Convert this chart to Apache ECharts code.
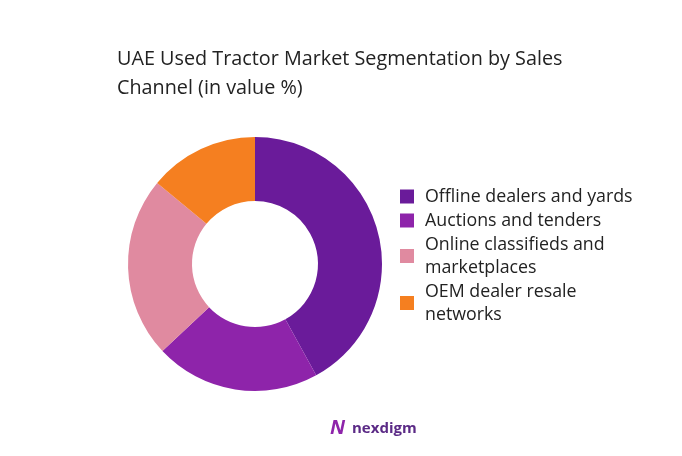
<!DOCTYPE html>
<html><head><meta charset="utf-8">
<script src="https://cdn.jsdelivr.net/npm/echarts@6/dist/echarts.min.js"></script>
<style>html,body{margin:0;padding:0;background:#fff}#c{width:682px;height:456px}</style>
</head><body><div id="c"></div>
<script>
const categories = ["Offline dealers and yards","Auctions and tenders","Online classifieds and\nmarketplaces","OEM dealer resale\nnetworks"];
const values = [42, 21, 23, 14];
const colors = ["#6a1b9a","#8e24aa","#e08aa0","#f57f20"];
const chart = echarts.init(document.getElementById('c'));
chart.setOption({
  color: colors,
  title: {text: "UAE Used Tractor Market Segmentation by Sales\nChannel (in value %)", left: 112, top: 40,
    textStyle: {fontFamily: "Open Sans", fontSize: 19.8, fontWeight: "normal", color: "#222", lineHeight: 29}},
  legend: {orient: "vertical", left: 395, top: 180, itemWidth: 14, itemHeight: 14, itemGap: 1, icon: "rect",
    textStyle: {fontFamily: "Open Sans", fontSize: 17.8, color: "#222", lineHeight: 23, padding: [0,0,0,6]}},
  graphic: [{type: "text", left: 352, top: 421, style: {text: "nexdigm", font: "bold 15px Open Sans", fill: "#5b2a86"}},
            {type: "text", left: 330, top: 418, style: {text: "N", font: "italic bold 20px Open Sans", fill: "#8e24aa"}}],
  series: [{type: "pie", radius: [63, 127], center: [255, 264], startAngle: 90, clockwise: true,
    label: {show: false}, labelLine: {show: false}, silent: true,
    data: categories.map((n, i) => ({name: n, value: values[i]}))}]
});
</script></body></html>
